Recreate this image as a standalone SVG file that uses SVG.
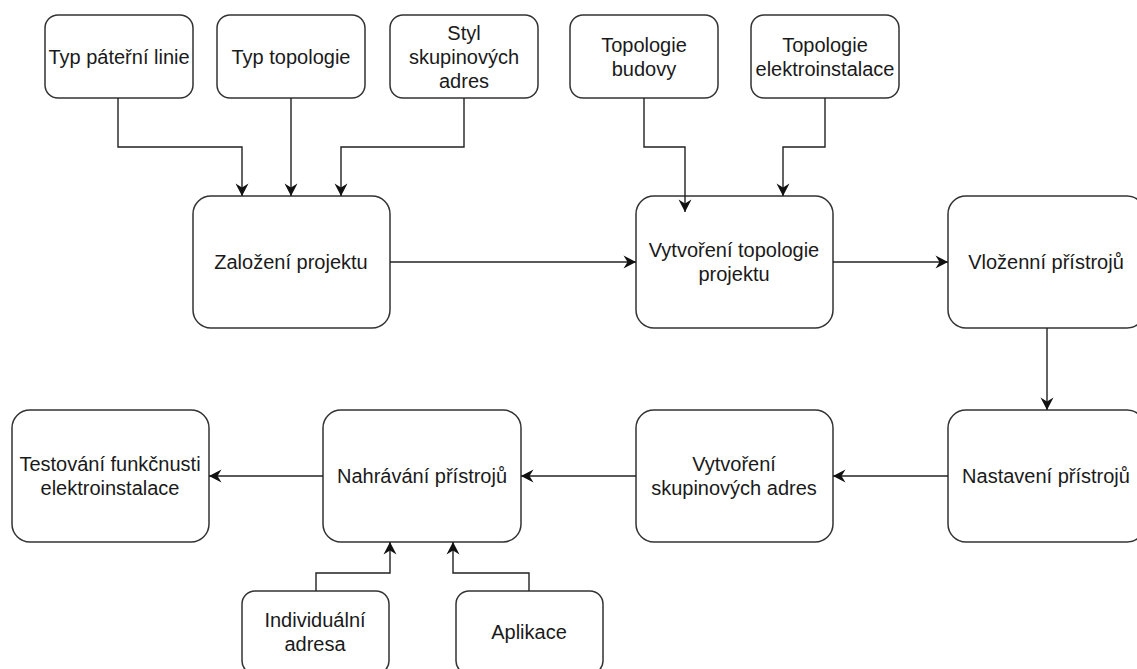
<svg xmlns="http://www.w3.org/2000/svg" width="1137" height="669" viewBox="0 0 1137 669">
<style>
.box{fill:#fff;stroke:#333;stroke-width:1.5}
.t{font-family:"Liberation Sans",Arial,sans-serif;font-size:20px;fill:#1a1a1a;text-anchor:middle}
.c{fill:none;stroke:#222;stroke-width:1.4}
</style>
<defs>
<marker id="ar" markerUnits="userSpaceOnUse" viewBox="-13 -7 14 14" refX="0" refY="0" markerWidth="14" markerHeight="14" orient="auto">
<path d="M0,0 L-12.5,-6.5 L-8.5,0 L-12.5,6.5 Z" fill="#111"/>
</marker>
</defs>
<rect width="1137" height="669" fill="#fff"/>
<g id="n1"><rect class="box" x="45" y="15" width="148" height="83" rx="13"/><text class="t" x="119" y="64">Typ páteřní linie</text></g>
<g id="n2"><rect class="box" x="217" y="15" width="148" height="83" rx="13"/><text class="t" x="291" y="64">Typ topologie</text></g>
<g id="n3"><rect class="box" x="390" y="15" width="148" height="83" rx="13"/><text class="t" x="464" y="40">Styl</text><text class="t" x="464" y="64">skupinových</text><text class="t" x="464" y="88">adres</text></g>
<g id="n4"><rect class="box" x="570" y="15" width="148" height="83" rx="13"/><text class="t" x="644" y="52">Topologie</text><text class="t" x="644" y="76">budovy</text></g>
<g id="n5"><rect class="box" x="751" y="15" width="148" height="83" rx="13"/><text class="t" x="825" y="52">Topologie</text><text class="t" x="825" y="76">elektroinstalace</text></g>
<g id="n6"><rect class="box" x="193" y="196" width="197" height="132" rx="18"/><text class="t" x="291" y="269">Založení projektu</text></g>
<g id="n7"><rect class="box" x="636" y="196" width="197" height="132" rx="18"/><text class="t" x="734" y="257">Vytvoření topologie</text><text class="t" x="734" y="281">projektu</text></g>
<g id="n8"><rect class="box" x="948" y="196" width="197" height="132" rx="18"/><text class="t" x="1046" y="269">Vloženní přístrojů</text></g>
<g id="n9"><rect class="box" x="948" y="410" width="197" height="132" rx="18"/><text class="t" x="1046" y="483">Nastavení přístrojů</text></g>
<g id="n10"><rect class="box" x="636" y="410" width="197" height="132" rx="18"/><text class="t" x="734" y="471">Vytvoření</text><text class="t" x="734" y="495">skupinových adres</text></g>
<g id="n11"><rect class="box" x="323" y="410" width="198" height="132" rx="18"/><text class="t" x="422" y="483">Nahrávání přístrojů</text></g>
<g id="n12"><rect class="box" x="12" y="410" width="197" height="132" rx="18"/><text class="t" x="110" y="471">Testování funkčnusti</text><text class="t" x="110" y="495">elektroinstalace</text></g>
<g id="n13"><rect class="box" x="242" y="591" width="147" height="83" rx="13"/><text class="t" x="315" y="627">Individuální</text><text class="t" x="315" y="651">adresa</text></g>
<g id="n14"><rect class="box" x="456" y="591" width="147" height="83" rx="13"/><text class="t" x="529" y="639">Aplikace</text></g>
<g id="connectors">
<path class="c" d="M118,98 V147 H242 V196" marker-end="url(#ar)"/>
<path class="c" d="M291,98 V196" marker-end="url(#ar)"/>
<path class="c" d="M464,98 V147 H341 V196" marker-end="url(#ar)"/>
<path class="c" d="M644,98 V147 H685 V212" marker-end="url(#ar)"/>
<path class="c" d="M825,98 V147 H783 V196" marker-end="url(#ar)"/>
<path class="c" d="M390,262 H636" marker-end="url(#ar)"/>
<path class="c" d="M833,262 H948" marker-end="url(#ar)"/>
<path class="c" d="M1047,328 V410" marker-end="url(#ar)"/>
<path class="c" d="M948,476 H833" marker-end="url(#ar)"/>
<path class="c" d="M636,476 H521" marker-end="url(#ar)"/>
<path class="c" d="M323,476 H209" marker-end="url(#ar)"/>
<path class="c" d="M316,591 V573 H390 V542" marker-end="url(#ar)"/>
<path class="c" d="M529,591 V573 H453 V542" marker-end="url(#ar)"/>
</g>
</svg>
